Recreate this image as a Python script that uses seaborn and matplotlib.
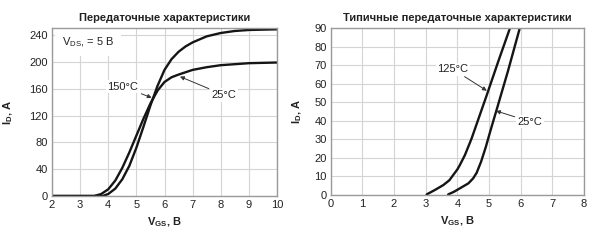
import matplotlib
matplotlib.use("Agg")
import matplotlib.pyplot as plt
import seaborn as sns
import pandas as pd

# ---------------- data ----------------
# left chart: transfer characteristics (VDS = 5 V)
left_title = "Передаточные характеристики"
vgs_a = [2.0, 3.0, 3.5, 3.75, 4.0, 4.25, 4.5, 4.75, 5.0, 5.25, 5.5, 5.75, 6.0, 6.25, 6.5, 7.0, 7.5, 8.0, 9.0, 10.0]
id_a = [0, 0, 0, 3, 10, 23, 42, 65, 90, 115, 138, 157, 170, 177, 181, 188, 192, 195, 198, 199]
vgs_b = [2.0, 3.0, 3.8, 4.0, 4.25, 4.5, 4.75, 5.0, 5.25, 5.5, 5.75, 6.0, 6.25, 6.5, 6.75, 7.0, 7.5, 8.0, 8.5, 9.0, 10.0]
id_b = [0, 0, 0, 3, 11, 25, 45, 72, 103, 135, 164, 188, 204, 215, 223, 229, 238, 243, 246, 247.5, 248.5]
left_xticks = [2, 3, 4, 5, 6, 7, 8, 9, 10]
left_yticks = [0, 40, 80, 120, 160, 200, 240]

# right chart: typical transfer characteristics
right_title = "Типичные передаточные характеристики"
vgs_125 = [3.03, 3.3, 3.56, 3.75, 3.87, 4.0, 4.08, 4.24, 4.45, 4.92, 5.3, 5.66]
id_125 = [0.3, 2.8, 5.4, 8.0, 10.8, 13.8, 16.2, 21.6, 30.5, 53.5, 72.5, 90]
vgs_25 = [3.71, 3.9, 4.08, 4.35, 4.5, 4.61, 4.75, 4.9, 5.05, 5.24, 5.6, 5.97]
id_25 = [0.3, 1.8, 3.6, 6.3, 9, 12, 18, 26, 35, 46, 67, 90]
right_xticks = [0, 1, 2, 3, 4, 5, 6, 7, 8]
right_yticks = [0, 10, 20, 30, 40, 50, 60, 70, 80, 90]

# ---------------- style ----------------
sns.set_theme(style="whitegrid")
plt.rcParams["font.family"] = ["Liberation Sans", "DejaVu Sans"]
plt.rcParams["mathtext.default"] = "regular"

GRID = "#d4d4d4"
SPINE = "#9a9a9a"
TXT = "#222222"

fig = plt.figure(figsize=(6.0, 2.43), dpi=100)
ax1 = fig.add_axes([52 / 600, 47 / 243, 225 / 600, 167.7 / 243])
ax2 = fig.add_axes([330.7 / 600, 48 / 243, 253.3 / 600, 166.7 / 243])

df_left = pd.concat([
    pd.DataFrame({"VGS": vgs_a, "ID": id_a, "curve": "25°C"}),
    pd.DataFrame({"VGS": vgs_b, "ID": id_b, "curve": "150°C"}),
])
df_right = pd.concat([
    pd.DataFrame({"VGS": vgs_125, "ID": id_125, "curve": "125°C"}),
    pd.DataFrame({"VGS": vgs_25, "ID": id_25, "curve": "25°C"}),
])

for ax, df in ((ax1, df_left), (ax2, df_right)):
    sns.lineplot(data=df, x="VGS", y="ID", hue="curve", units="curve", estimator=None,
                 palette=["#151515", "#151515"], linewidth=1.7, legend=False, ax=ax,
                 sort=False)

def style(ax, xlim, ylim, xticks, yticks, title):
    ax.set_xlim(*xlim)
    ax.set_ylim(*ylim)
    ax.set_xticks(xticks)
    ax.set_yticks(yticks)
    ax.grid(True, color=GRID, linewidth=0.8)
    for s in ax.spines.values():
        s.set_color(SPINE)
        s.set_linewidth(1.0)
        s.set_zorder(5)
    ax.tick_params(length=0, pad=3, labelsize=8, colors=TXT)
    ax.set_title(title, fontsize=8, fontweight="bold", color=TXT, pad=5)
    ax.set_xlabel("V$_{GS}$, B", fontsize=8, fontweight="bold", color=TXT, labelpad=4)
    ax.set_ylabel("I$_D$, A", fontsize=8, fontweight="bold", color=TXT)

style(ax1, (2, 10), (0, 250), left_xticks, left_yticks, left_title)
style(ax2, (0, 8), (0, 90), right_xticks, right_yticks, right_title)
ax1.yaxis.set_label_coords(-0.165, 0.5)
ax2.yaxis.set_label_coords(-0.105, 0.5)

box = dict(boxstyle="square,pad=0.15", fc="white", ec="none")
arrow = dict(arrowstyle="-|>", color="#333333", lw=0.7, mutation_scale=6, shrinkA=1, shrinkB=0)

ax1.text(2.36, 229, "V$_{DS}$, = 5 B", fontsize=8, color=TXT, va="center", ha="left",
         bbox=dict(boxstyle="square,pad=0.6", fc="white", ec="none"), zorder=2)
ax1.annotate("150°C", xy=(5.545, 146.5), xytext=(4.52, 163), fontsize=8, color=TXT,
             ha="center", va="center", bbox=box, arrowprops=arrow)
ax1.annotate("25°C", xy=(6.55, 178), xytext=(8.12, 150.5), fontsize=8, color=TXT,
             ha="center", va="center", bbox=box, arrowprops=arrow)
ax2.annotate("125°C", xy=(4.93, 56.3), xytext=(3.86, 67.9), fontsize=8, color=TXT,
             ha="center", va="center", bbox=box, arrowprops=arrow)
ax2.annotate("25°C", xy=(5.22, 45.4), xytext=(6.3, 39.6), fontsize=8, color=TXT,
             ha="center", va="center", bbox=box, arrowprops=arrow)

fig.savefig("out.png", dpi=100)
